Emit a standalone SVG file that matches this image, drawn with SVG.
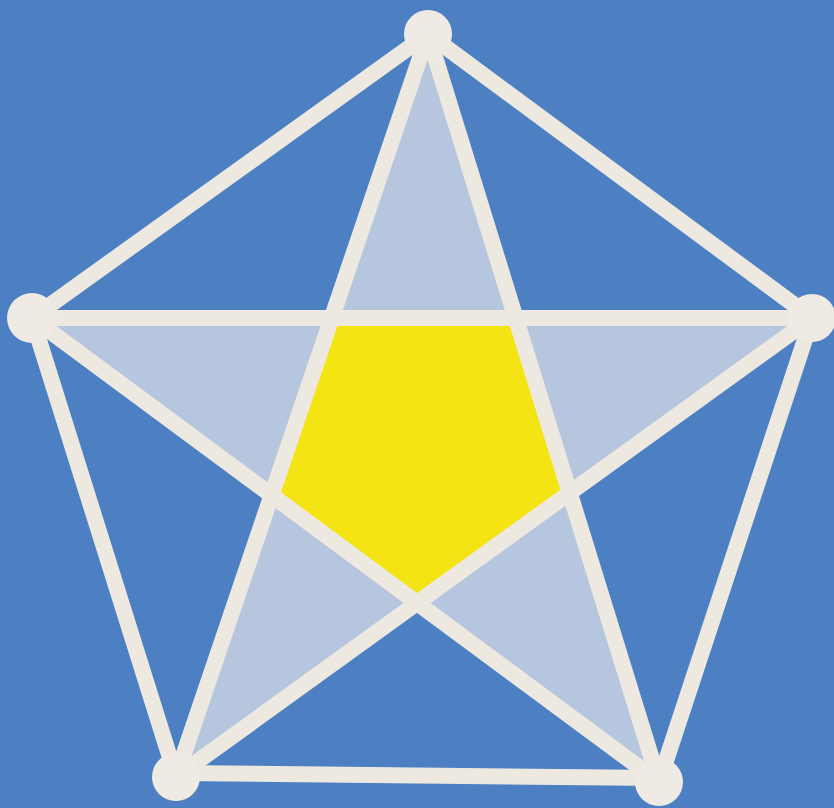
<svg xmlns="http://www.w3.org/2000/svg" width="834" height="808" viewBox="0 0 834 808">
<style>
.edge{stroke:#ede9e1;stroke-width:16;stroke-linecap:round;fill:none}
.node{fill:#efebe4}
</style>
<rect width="834" height="808" fill="#4c80c3"/>
<path d="M428,34 L176,777 L812,318 L32,318 L659,782 Z" fill="#b5c6de" fill-rule="nonzero"/>
<polygon points="331.7,318 515.7,318 569.7,492.9 417.1,603 271.6,495.3" fill="#f4e413"/>
<g id="connectors">
<line class="edge" x1="428" y1="34" x2="32" y2="318"/>
<line class="edge" x1="428" y1="34" x2="812" y2="318"/>
<line class="edge" x1="32" y1="318" x2="176" y2="777"/>
<line class="edge" x1="812" y1="318" x2="659" y2="782"/>
<line class="edge" x1="176" y1="773" x2="659" y2="778"/>
<line class="edge" x1="428" y1="34" x2="176" y2="777"/>
<line class="edge" x1="428" y1="34" x2="659" y2="782"/>
<line class="edge" x1="32" y1="318" x2="812" y2="318"/>
<line class="edge" x1="32" y1="318" x2="659" y2="782"/>
<line class="edge" x1="812" y1="318" x2="176" y2="777"/>
</g>
<g id="node-top"><circle class="node" cx="428" cy="34" r="24"/></g>
<g id="node-left"><circle class="node" cx="32" cy="318" r="25"/></g>
<g id="node-right"><circle class="node" cx="812" cy="318" r="24"/></g>
<g id="node-bottom-left"><circle class="node" cx="176" cy="777" r="24"/></g>
<g id="node-bottom-right"><circle class="node" cx="659" cy="782" r="24"/></g>
</svg>
